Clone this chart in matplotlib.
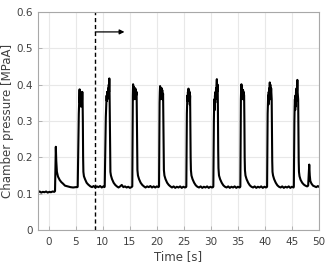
import matplotlib
matplotlib.use("Agg")
import matplotlib.pyplot as plt

# ---- data ----
time_s = [
    -2.0, -1.7, -1.4, -1.1, -0.8, -0.5, -0.2, 0.1, 0.4, 0.7, 1.0,
    1.15, 1.25, 1.3, 1.38, 1.5, 1.7, 2.0, 2.3, 2.6, 3.0, 3.5, 4.0, 4.5, 5.0, 5.3,
    5.35, 5.45, 5.55, 5.65, 5.7, 5.75, 5.8, 5.9, 5.95, 6.0, 6.05, 6.1, 6.2, 6.25, 6.3, 6.35, 6.4, 6.5, 6.7, 7.0, 7.3, 7.7, 8.0, 8.3, 8.6, 8.9, 9.2, 9.5, 9.8, 10.1, 10.3,
    10.35, 10.45, 10.55, 10.65, 10.7, 10.75, 10.8, 10.85, 10.9, 10.95, 11.0, 11.05, 11.1, 11.15, 11.2, 11.25, 11.3, 11.35, 11.4, 11.5, 11.7, 12.0, 12.3, 12.6, 12.9, 13.2, 13.5, 13.8, 14.1, 14.4, 14.7, 15.0, 15.3,
    15.45, 15.5, 15.55, 15.6, 15.65, 15.7, 15.75, 15.8, 15.85, 15.9, 15.95, 16.0, 16.05, 16.1, 16.15, 16.25, 16.3, 16.35, 16.4, 16.5, 16.7, 17.0, 17.3, 17.6, 17.9, 18.2, 18.5, 18.8, 19.1, 19.4, 19.7, 20.0, 20.3,
    20.4, 20.45, 20.5, 20.55, 20.6, 20.65, 20.7, 20.75, 20.8, 20.85, 20.9, 20.95, 21.0, 21.05, 21.15, 21.2, 21.25, 21.3, 21.4, 21.6, 21.9, 22.2, 22.5, 22.8, 23.1, 23.4, 23.7, 24.0, 24.3, 24.6, 24.9, 25.2, 25.4,
    25.45, 25.5, 25.55, 25.6, 25.65, 25.7, 25.75, 25.8, 25.85, 25.9, 25.95, 26.0, 26.05, 26.1, 26.15, 26.2, 26.25, 26.3, 26.4, 26.6, 26.9, 27.2, 27.5, 27.8, 28.1, 28.4, 28.7, 29.0, 29.3, 29.6, 29.9, 30.2, 30.4,
    30.45, 30.5, 30.55, 30.6, 30.65, 30.7, 30.75, 30.8, 30.85, 30.9, 30.95, 31.0, 31.05, 31.1, 31.15, 31.25, 31.3, 31.35, 31.4, 31.5, 31.7, 32.0, 32.3, 32.6, 32.9, 33.2, 33.5, 33.8, 34.1, 34.4, 34.7, 35.0, 35.3, 35.4,
    35.45, 35.5, 35.55, 35.6, 35.65, 35.7, 35.75, 35.8, 35.85, 35.9, 35.95, 36.0, 36.05, 36.15, 36.2, 36.25, 36.3, 36.4, 36.6, 36.9, 37.2, 37.5, 37.8, 38.1, 38.4, 38.7, 39.0, 39.3, 39.6, 39.9, 40.2, 40.35,
    40.4, 40.45, 40.5, 40.55, 40.6, 40.65, 40.7, 40.75, 40.8, 40.85, 40.9, 40.95, 41.0, 41.05, 41.15, 41.25, 41.3, 41.35, 41.4, 41.5, 41.7, 42.0, 42.3, 42.6, 42.9, 43.2, 43.5, 43.8, 44.1, 44.4, 44.7, 45.0, 45.3,
    45.35, 45.4, 45.45, 45.5, 45.55, 45.6, 45.65, 45.7, 45.75, 45.8, 45.85, 45.9, 45.95, 46.0, 46.05, 46.15, 46.2, 46.25, 46.3, 46.4, 46.6, 46.9, 47.2, 47.5, 47.8, 48.0, 48.1, 48.2, 48.3, 48.4, 48.6, 48.9, 49.2, 49.5, 49.8, 50.0,
]
pressure_mpa = [
    0.104, 0.106, 0.103, 0.105, 0.104, 0.106, 0.103, 0.105, 0.104, 0.106, 0.105,
    0.107, 0.18, 0.229, 0.19, 0.16, 0.147, 0.138, 0.132, 0.128, 0.122, 0.12, 0.118, 0.117, 0.118, 0.118,
    0.12, 0.22, 0.32, 0.37, 0.387, 0.35, 0.375, 0.34, 0.37, 0.35, 0.378, 0.34, 0.38, 0.36, 0.30, 0.2, 0.16, 0.148, 0.14, 0.13, 0.125, 0.12, 0.118, 0.121, 0.117, 0.12, 0.118, 0.121, 0.117, 0.12, 0.118,
    0.12, 0.22, 0.31, 0.35, 0.37, 0.355, 0.38, 0.36, 0.38, 0.365, 0.39, 0.37, 0.40, 0.38, 0.417, 0.37, 0.29, 0.19, 0.16, 0.15, 0.14, 0.13, 0.124, 0.12, 0.117, 0.12, 0.124, 0.118, 0.12, 0.117, 0.119, 0.116, 0.118,
    0.12, 0.25, 0.37, 0.401, 0.37, 0.395, 0.36, 0.39, 0.365, 0.385, 0.36, 0.39, 0.365, 0.385, 0.37, 0.38, 0.30, 0.2, 0.165, 0.15, 0.14, 0.13, 0.124, 0.12, 0.117, 0.12, 0.118, 0.121, 0.117, 0.12, 0.117, 0.12, 0.118,
    0.12, 0.24, 0.35, 0.38, 0.396, 0.37, 0.39, 0.36, 0.385, 0.365, 0.39, 0.37, 0.385, 0.36, 0.375, 0.30, 0.2, 0.165, 0.15, 0.14, 0.13, 0.124, 0.12, 0.117, 0.12, 0.116, 0.119, 0.117, 0.12, 0.116, 0.119, 0.117, 0.118,
    0.12, 0.22, 0.32, 0.35, 0.37, 0.355, 0.38, 0.36, 0.389, 0.365, 0.385, 0.36, 0.38, 0.345, 0.37, 0.29, 0.2, 0.165, 0.15, 0.14, 0.13, 0.123, 0.119, 0.117, 0.12, 0.116, 0.119, 0.117, 0.12, 0.116, 0.119, 0.117, 0.118,
    0.12, 0.22, 0.30, 0.34, 0.36, 0.33, 0.37, 0.35, 0.38, 0.36, 0.39, 0.37, 0.40, 0.415, 0.38, 0.40, 0.33, 0.22, 0.17, 0.15, 0.14, 0.13, 0.123, 0.119, 0.117, 0.12, 0.116, 0.119, 0.117, 0.12, 0.116, 0.119, 0.117, 0.118,
    0.12, 0.25, 0.36, 0.39, 0.401, 0.37, 0.395, 0.36, 0.385, 0.365, 0.385, 0.36, 0.38, 0.37, 0.30, 0.2, 0.165, 0.15, 0.14, 0.13, 0.123, 0.119, 0.117, 0.12, 0.116, 0.119, 0.117, 0.12, 0.116, 0.119, 0.117, 0.118,
    0.12, 0.22, 0.32, 0.35, 0.37, 0.345, 0.38, 0.355, 0.39, 0.37, 0.406, 0.37, 0.40, 0.36, 0.39, 0.36, 0.28, 0.19, 0.16, 0.15, 0.14, 0.13, 0.123, 0.119, 0.117, 0.12, 0.116, 0.119, 0.117, 0.12, 0.116, 0.119, 0.117,
    0.12, 0.22, 0.30, 0.34, 0.36, 0.33, 0.37, 0.34, 0.38, 0.355, 0.39, 0.37, 0.385, 0.413, 0.38, 0.36, 0.27, 0.19, 0.16, 0.148, 0.138, 0.13, 0.125, 0.122, 0.12, 0.122, 0.15, 0.18, 0.15, 0.135, 0.128, 0.122, 0.12, 0.118, 0.121, 0.119,
]
x_ticks = [0, 5, 10, 15, 20, 25, 30, 35, 40, 45, 50]
y_ticks = [0, 0.1, 0.2, 0.3, 0.4, 0.5, 0.6]
y_tick_labels = ["0", "0.1", "0.2", "0.3", "0.4", "0.5", "0.6"]
marker_time = 8.6
arrow_end_time = 14.0
arrow_level = 0.545

fig = plt.figure(figsize=(3.29, 2.65), dpi=100)
ax = fig.add_axes([0.1155, 0.132, 0.854, 0.823])

ax.plot(time_s, pressure_mpa, color="black", lw=1.5)
ax.plot([marker_time, marker_time], [0, 0.6], color="black", lw=1.0, ls=(0, (3, 2)))
ax.annotate("", xy=(arrow_end_time, arrow_level), xytext=(marker_time, arrow_level),
            arrowprops=dict(arrowstyle="-|>", color="black", lw=0.9, mutation_scale=7,
                            shrinkA=0, shrinkB=0))

ax.set_xlim(-2, 50)
ax.set_ylim(0, 0.6)
ax.set_xticks(x_ticks)
ax.set_yticks(y_ticks)
ax.set_yticklabels(y_tick_labels)
ax.grid(True, color="#e8e8e8", lw=0.8)
ax.set_axisbelow(True)
for s in ax.spines.values():
    s.set_color("#a8a8a8")
    s.set_linewidth(0.8)
ax.tick_params(axis="both", direction="in", length=3, width=0.6, color="#a8a8a8",
               labelsize=7.5, labelcolor="#404040", pad=3.5)
ax.tick_params(axis="x", pad=5)
ax.set_xlabel("Time [s]", fontsize=8.5, color="#404040", labelpad=2)
ax.set_ylabel("Chamber pressure [MPaA]", fontsize=8.5, color="#404040", labelpad=2)

fig.savefig("out.png", dpi=100)
